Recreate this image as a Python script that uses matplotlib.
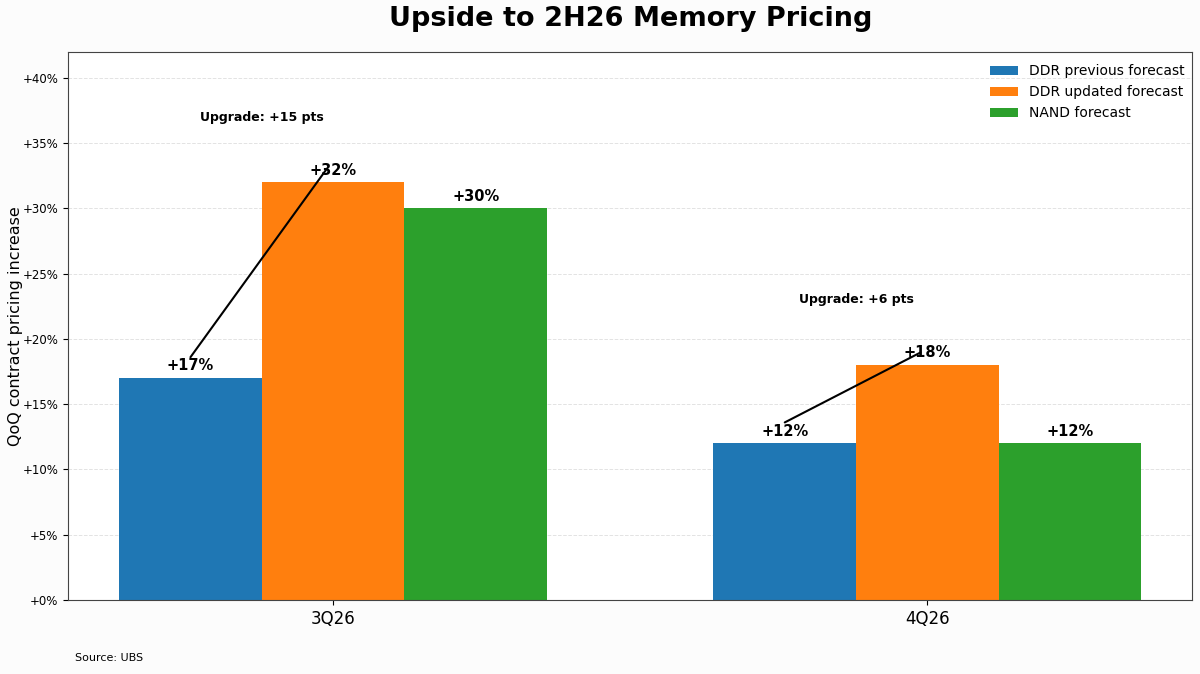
import matplotlib
matplotlib.use("Agg")
import matplotlib.pyplot as plt
import numpy as np

categories = ["3Q26", "4Q26"]
ddr_prev = [17, 12]
ddr_upd = [32, 18]
nand = [30, 12]
series_names = ["DDR previous forecast", "DDR updated forecast", "NAND forecast"]
colors = ["#1f77b4", "#ff7f0e", "#2ca02c"]
yticks = [0, 5, 10, 15, 20, 25, 30, 35, 40]

fig = plt.figure(figsize=(12, 6.74), dpi=100)
fig.patch.set_facecolor("#fcfcfc")
ax = fig.add_axes([0.0567, 0.11, 0.937, 0.813])
ax.set_facecolor("white")

x = np.arange(len(categories))
w = 0.24
allvals = [ddr_prev, ddr_upd, nand]
for i, (vals, name, c) in enumerate(zip(allvals, series_names, colors)):
    xs = x + (i - 1) * w
    ax.bar(xs, vals, w, color=c, label=name, zorder=2)
    for xi, v in zip(xs, vals):
        ax.text(xi, v + 0.35, f"+{v}%", ha="center", va="bottom",
                fontsize=10.5, fontweight="bold", zorder=4)

for i in range(len(categories)):
    p, u = ddr_prev[i], ddr_upd[i]
    ax.annotate("", xy=(x[i] - 0.012, u + 0.95), xytext=(x[i] - w, p + 1.6),
                arrowprops=dict(arrowstyle="-", color="black", lw=1.5,
                                shrinkA=0, shrinkB=0), zorder=5)
    ax.text(x[i] - w / 2, u + 5, f"Upgrade: +{u - p} pts", ha="center",
            va="center", fontsize=9, fontweight="bold")

ax.set_ylim(0, 42)
ax.set_yticks(yticks)
ax.set_yticklabels([f"+{t}%" for t in yticks], fontsize=8.5)
ax.set_xticks(x)
ax.set_xticklabels(categories, fontsize=12)
ax.set_ylabel("QoQ contract pricing increase", fontsize=11.5)
ax.yaxis.set_label_coords(-0.04, 0.5)
ax.grid(axis="y", linestyle="--", color="#e3e3e3", linewidth=0.7, zorder=0)
ax.set_axisbelow(True)
for s in ax.spines.values():
    s.set_color("#444444")

ax.legend(loc="upper right", frameon=False, fontsize=10,
          bbox_to_anchor=(1.0045, 1.0))
ax.set_title("Upside to 2H26 Memory Pricing", fontsize=19.5, fontweight="bold", pad=19)
fig.text(0.0625, 0.02, "Source: UBS", fontsize=8)

fig.savefig("out.png", dpi=100, facecolor=fig.get_facecolor())
